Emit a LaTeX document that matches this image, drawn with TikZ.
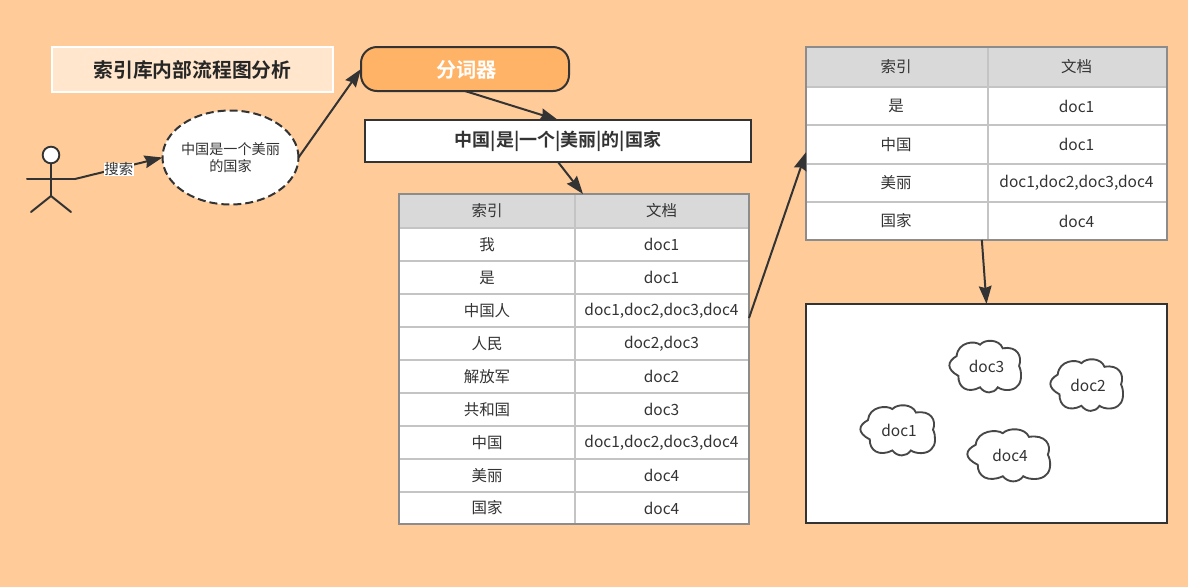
\documentclass[tikz,border=0pt]{standalone}
\usepackage{fontspec}
\setmainfont{Noto Sans CJK SC}[BoldFont={Noto Sans CJK SC Bold}]
\usetikzlibrary{arrows.meta,shapes.geometric,calc}
\definecolor{bgc}{HTML}{FFCC99}
\definecolor{titlec}{HTML}{FFE6CC}
\definecolor{segc}{HTML}{FFB366}
\definecolor{ink}{HTML}{333333}
\definecolor{headc}{HTML}{D9D9D9}
\definecolor{gridc}{HTML}{C4C4C4}
\definecolor{edgec}{HTML}{8C8C8C}
\tikzset{
  every node/.style={outer sep=0pt,inner sep=0pt,text=ink,font=\fontsize{11.6pt}{14pt}\selectfont},
  box/.style={draw=ink,line width=1.5pt,fill=white,rectangle},
  tbl/.style={draw=edgec,line width=1.4pt,rectangle},
  conn/.style={draw=ink,line width=1.5pt,-{Stealth[length=13.5pt,width=9.5pt,inset=1.5pt]}},
  gridl/.style={draw=gridc,line width=1.2pt},
  limb/.style={draw=ink,line width=1.5pt,line cap=round},
  cloudl/.style={draw=ink!90,line width=1.4pt,fill=white},
}
\newcommand{\cloudat}[6]{%
  \begin{scope}[shift={(#1,#2)},xscale=#3,yscale=#4]
    \path[cloudl] (.10,.30) .. controls (.12,.02) and (.36,.0) .. (.43,.08)
      .. controls (.5,-.03) and (.7,-.03) .. (.75,.15)
      .. controls (.95,.1) and (1.03,.3) .. (.98,.49)
      .. controls (1.02,.6) and (1.02,.8) .. (.96,.87)
      .. controls (.9,.98) and (.75,.97) .. (.68,.90)
      .. controls (.62,1.03) and (.5,1.03) .. (.43,.90)
      .. controls (.25,1.03) and (.12,.9) .. (.125,.68)
      .. controls (-.05,.55) and (-.03,.4) .. (.10,.30) -- cycle;
  \end{scope}
  \node (#5) at ($(#1,#2)+(.5*#3+1.5,.5*#4)$) {#6};
}
\begin{document}
\begin{tikzpicture}[x=0.75pt,y=-0.75pt]
\useasboundingbox (0,0) rectangle (1188,587);
\fill[bgc] (0,0) rectangle (1188,587);

% title and process boxes
\node[draw=white,line width=1.5pt,fill=titlec,minimum width=210.75pt,minimum height=33.75pt,
  font=\fontsize{14.85pt}{17pt}\selectfont\bfseries,text=black!85] (title) at (192.5,69.5) {索引库内部流程图分析};
\node[draw=ink,line width=1.5pt,fill=segc,rounded corners=12pt,minimum width=156pt,minimum height=33pt] (seg) at (465,69) {};
\node[font=\fontsize{15.2pt}{18pt}\selectfont\bfseries,text=white] (segtext) at (466.5,69.5) {分词器};
\node[box,minimum width=289.5pt,minimum height=31.5pt,
  font=\fontsize{13.5pt}{16pt}\selectfont\bfseries] (phrase) at (558,141) {中国|是|一个|美丽|的|国家};

% actor
\node[circle,draw=ink,line width=1.4pt,fill=white,minimum size=12.5pt] (head) at (51,155) {};
\coordinate (hip) at (51,196);
\coordinate (handl) at (27,179);
\coordinate (handr) at (75,179);
\coordinate (footl) at (31,212);
\coordinate (footr) at (71,212);
\draw[limb] (head.south) -- (hip);
\draw[limb] (handl) -- (handr);
\draw[limb] (footl) -- (hip) -- (footr);

% query ellipse
\node[ellipse,draw=ink,line width=1.5pt,dash pattern=on 6pt off 3pt,fill=white,
  minimum width=102pt,minimum height=70.5pt] (query) at (230.5,157.5) {};
\node[align=center,font=\fontsize{10.6pt}{12.6pt}\selectfont] (querytext) at (230.5,157.5) {中国是一个美丽\\的国家};

% left table
\node[tbl,fill=white,minimum width=262.5pt,minimum height=247.5pt] (lt) at (574,359) {};
\fill[headc] (399,194) rectangle (749,228);
\foreach \yy in {228,261,294,327,360,393,426,459,492}{\draw[gridl] (399,\yy) -- (749,\yy);}
\draw[gridl] (575,194) -- (575,524);
\node[tbl,minimum width=262.5pt,minimum height=247.5pt] (ltb) at (574,359) {};
\foreach \nm/\a/\b/\yy in {a/索引/文档/211,b/我/doc1/244.5,c/是/doc1/277.5,d/中国人/{doc1,doc2,doc3,doc4}/310.5,e/人民/{doc2,doc3}/343.5,f/解放军/doc2/376.5,g/共和国/doc3/409.5,h/中国/{doc1,doc2,doc3,doc4}/442.5,i/美丽/doc4/475.5,j/国家/doc4/508}{
  \node (lk\nm) at (487,\yy) {\a};
  \node (lv\nm) at (661.5,\yy) {\b};
}

% right table
\node[tbl,fill=white,minimum width=270.75pt,minimum height=144.75pt] (rt) at (986.5,143.5) {};
\fill[headc] (806,47) rectangle (1167,87);
\foreach \yy in {87,125,164,202}{\draw[gridl] (806,\yy) -- (1167,\yy);}
\draw[gridl] (988,47) -- (988,240);
\node[tbl,minimum width=270.75pt,minimum height=144.75pt] (rtb) at (986.5,143.5) {};
\foreach \nm/\a/\b/\yy in {a/索引/文档/67,b/是/doc1/106,c/中国/doc1/144.5,d/美丽/{doc1,doc2,doc3,doc4}/183,e/国家/doc4/221}{
  \node (rk\nm) at (896,\yy) {\a};
  \node (rv\nm) at (1076.5,\yy) {\b};
}

% result box with clouds
\node[box,minimum width=270.75pt,minimum height=164.25pt] (res) at (986.5,413.5) {};
\cloudat{949.5}{340.5}{71}{52}{cthree}{doc3}
\cloudat{1050.5}{359}{72}{52}{ctwo}{doc2}
\cloudat{860.5}{405}{74}{50.5}{cone}{doc1}
\cloudat{967.5}{429}{82}{52.5}{cfour}{doc4}

% connectors
\draw[conn] (handr) -- (query.west) node[midway,fill=white,inner xsep=0.5pt,inner ysep=0pt,yshift=-0.7pt,font=\fontsize{10.8pt}{11pt}\selectfont,text=ink] (lbl) {搜索};
\draw[conn] (query.east) -- (seg.west);
\draw[conn] (seg.south) -- (phrase.north);
\draw[conn] (phrase.south) -- ([xshift=6.75pt]lt.north);
\draw[conn] ([yshift=30.75pt]lt.east) -- ([yshift=-6.5pt]rt.west);
\draw[conn] ([xshift=-3.5pt]rt.south) -- (res.north);
\end{tikzpicture}
\end{document}
